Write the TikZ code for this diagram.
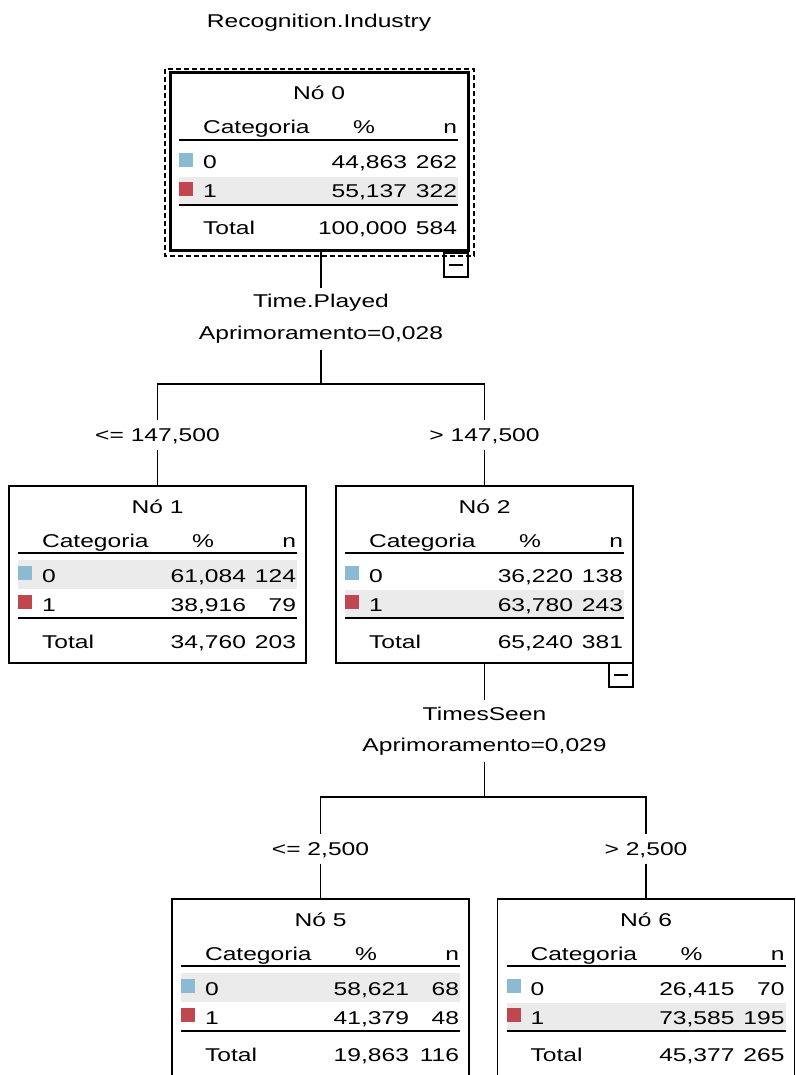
\documentclass[tikz,border=0pt]{standalone}
\usepackage{fontspec}
\setmainfont[FakeStretch=1.33]{Liberation Sans}
\usetikzlibrary{calc}
\definecolor{catblue}{HTML}{8DBAD3}
\definecolor{catred}{HTML}{C0474F}
\definecolor{rowgrey}{HTML}{EBEBEB}

\begin{document}
\begin{tikzpicture}[x=1pt, y=-1pt,
    every node/.style={font=\fontsize{18.5}{31.5}\selectfont, inner sep=0pt, outer sep=0pt},
    treebox/.style={draw, line width=1.5pt, minimum width=297pt, minimum height=177pt},
    rootbox/.style={draw, line width=3pt, minimum width=298pt, minimum height=177pt},
    selframe/.style={line width=1.6pt, dash pattern=on 5pt off 3pt},
    toggle/.style={draw, line width=1.3pt, minimum size=24pt},
    rule/.style={line width=1.6pt},
    link/.style={line width=1.5pt},
    splitlbl/.style={align=center, minimum height=62pt},
    cutlbl/.style={text height=14pt, text depth=1pt, minimum height=30pt}
  ]
  \useasboundingbox (0,0) rectangle (795,1075);

  \node (title) at (319,23) {Recognition.Industry};

  % one box per tree node: counts, shaded row offset and box style
  \foreach \nm/\cx/\cy/\num/\pa/\na/\pb/\nb/\pt/\nt/\bd/\sty in {
      n0/319/161.5/0/{44,863}/262/{55,137}/322/{100,000}/584/104/rootbox,
      n1/157.5/574.5/1/{61,084}/124/{38,916}/79/{34,760}/203/74/treebox,
      n2/484.5/574.5/2/{36,220}/138/{63,780}/243/{65,240}/381/104/treebox,
      n5/320.5/987.5/5/{58,621}/68/{41,379}/48/{19,863}/116/74/treebox,
      n6/646/987.5/6/{26,415}/70/{73,585}/195/{45,377}/265/104/treebox}
  {
    \node[\sty] (\nm) at (\cx,\cy) {};
    \fill[rowgrey] ($(\nm.north west)+(9,\bd)$) rectangle ++(279,29);
    \fill[catblue] ($(\nm.north west)+(9,80)$) rectangle ++(14,14);
    \fill[catred] ($(\nm.north west)+(9,109)$) rectangle ++(14,14);
    \draw[rule] ($(\nm.north west)+(9,67)$) -- ++(279,0);
    \draw[rule] ($(\nm.north west)+(9,132)$) -- ++(279,0);

    \node[anchor=base] (\nm-title) at ($(\nm.north)+(0,27)$) {Nó \num};
    \node[anchor=base west] (\nm-cat) at ($(\nm.north west)+(33,61)$) {Categoria};
    \node[anchor=base] (\nm-pct) at ($(\nm.north west)+(194,61)$) {\%};
    \node[anchor=base east] (\nm-n) at ($(\nm.north west)+(287,61)$) {n};

    \node[anchor=base west] (\nm-a) at ($(\nm.north west)+(33,96)$) {0};
    \node[anchor=base east] (\nm-pa) at ($(\nm.north west)+(237,96)$) {\pa};
    \node[anchor=base east] (\nm-na) at ($(\nm.north west)+(287,96)$) {\na};

    \node[anchor=base west] (\nm-b) at ($(\nm.north west)+(33,125)$) {1};
    \node[anchor=base east] (\nm-pb) at ($(\nm.north west)+(237,125)$) {\pb};
    \node[anchor=base east] (\nm-nb) at ($(\nm.north west)+(287,125)$) {\nb};

    \node[anchor=base west] (\nm-tot) at ($(\nm.north west)+(33,162)$) {Total};
    \node[anchor=base east] (\nm-pt) at ($(\nm.north west)+(237,162)$) {\pt};
    \node[anchor=base east] (\nm-nt) at ($(\nm.north west)+(287,162)$) {\nt};
  }

  % splits
  \node[splitlbl] (s0) at (321,318.5) {Time.Played\\Aprimoramento=0,028};
  \coordinate (j0) at (321,384);
  \node[cutlbl] (c1) at (157.5,435) {<= 147,500};
  \node[cutlbl] (c2) at (484.5,435) {> 147,500};

  \node[splitlbl] (s2) at (484.5,731) {TimesSeen\\Aprimoramento=0,029};
  \coordinate (j2) at (484.5,797);
  \node[cutlbl] (c5) at (320.5,848.5) {<= 2,500};
  \node[cutlbl] (c6) at (646,848.5) {> 2,500};

  \draw[link] (n0.south -| s0) -- (s0.north);
  \draw[link] (n2.south) -- (s2.north);
  \draw[link] (s0) -- (j0);
  \draw[link] (s2) -- (j2);
  \draw[link] (c1.north) |- (j0) -| (c2.north);
  \draw[link] (c5.north) |- (j2) -| (c6.north);
  \foreach \a/\b in {c1/n1, c2/n2, c5/n5, c6/n6} {\draw[link] (\a) -- (\b);}

  % collapse buttons
  \node[toggle, anchor=north east] (t0) at ($(n0.south east)+(0,3)$) {};
  \node[toggle, anchor=north east] (t2) at (n2.south east) {};
  \foreach \t in {t0, t2}
    {\draw[line width=1.3pt] ($(\t.west)+(5,0)$) -- ($(\t.east)+(-5,0)$);}

  % selected root node
  \draw[selframe] ($(n0.north west)+(-5,-4)$) rectangle ($(n0.south east)+(6,6)$);

\end{tikzpicture}
\end{document}
